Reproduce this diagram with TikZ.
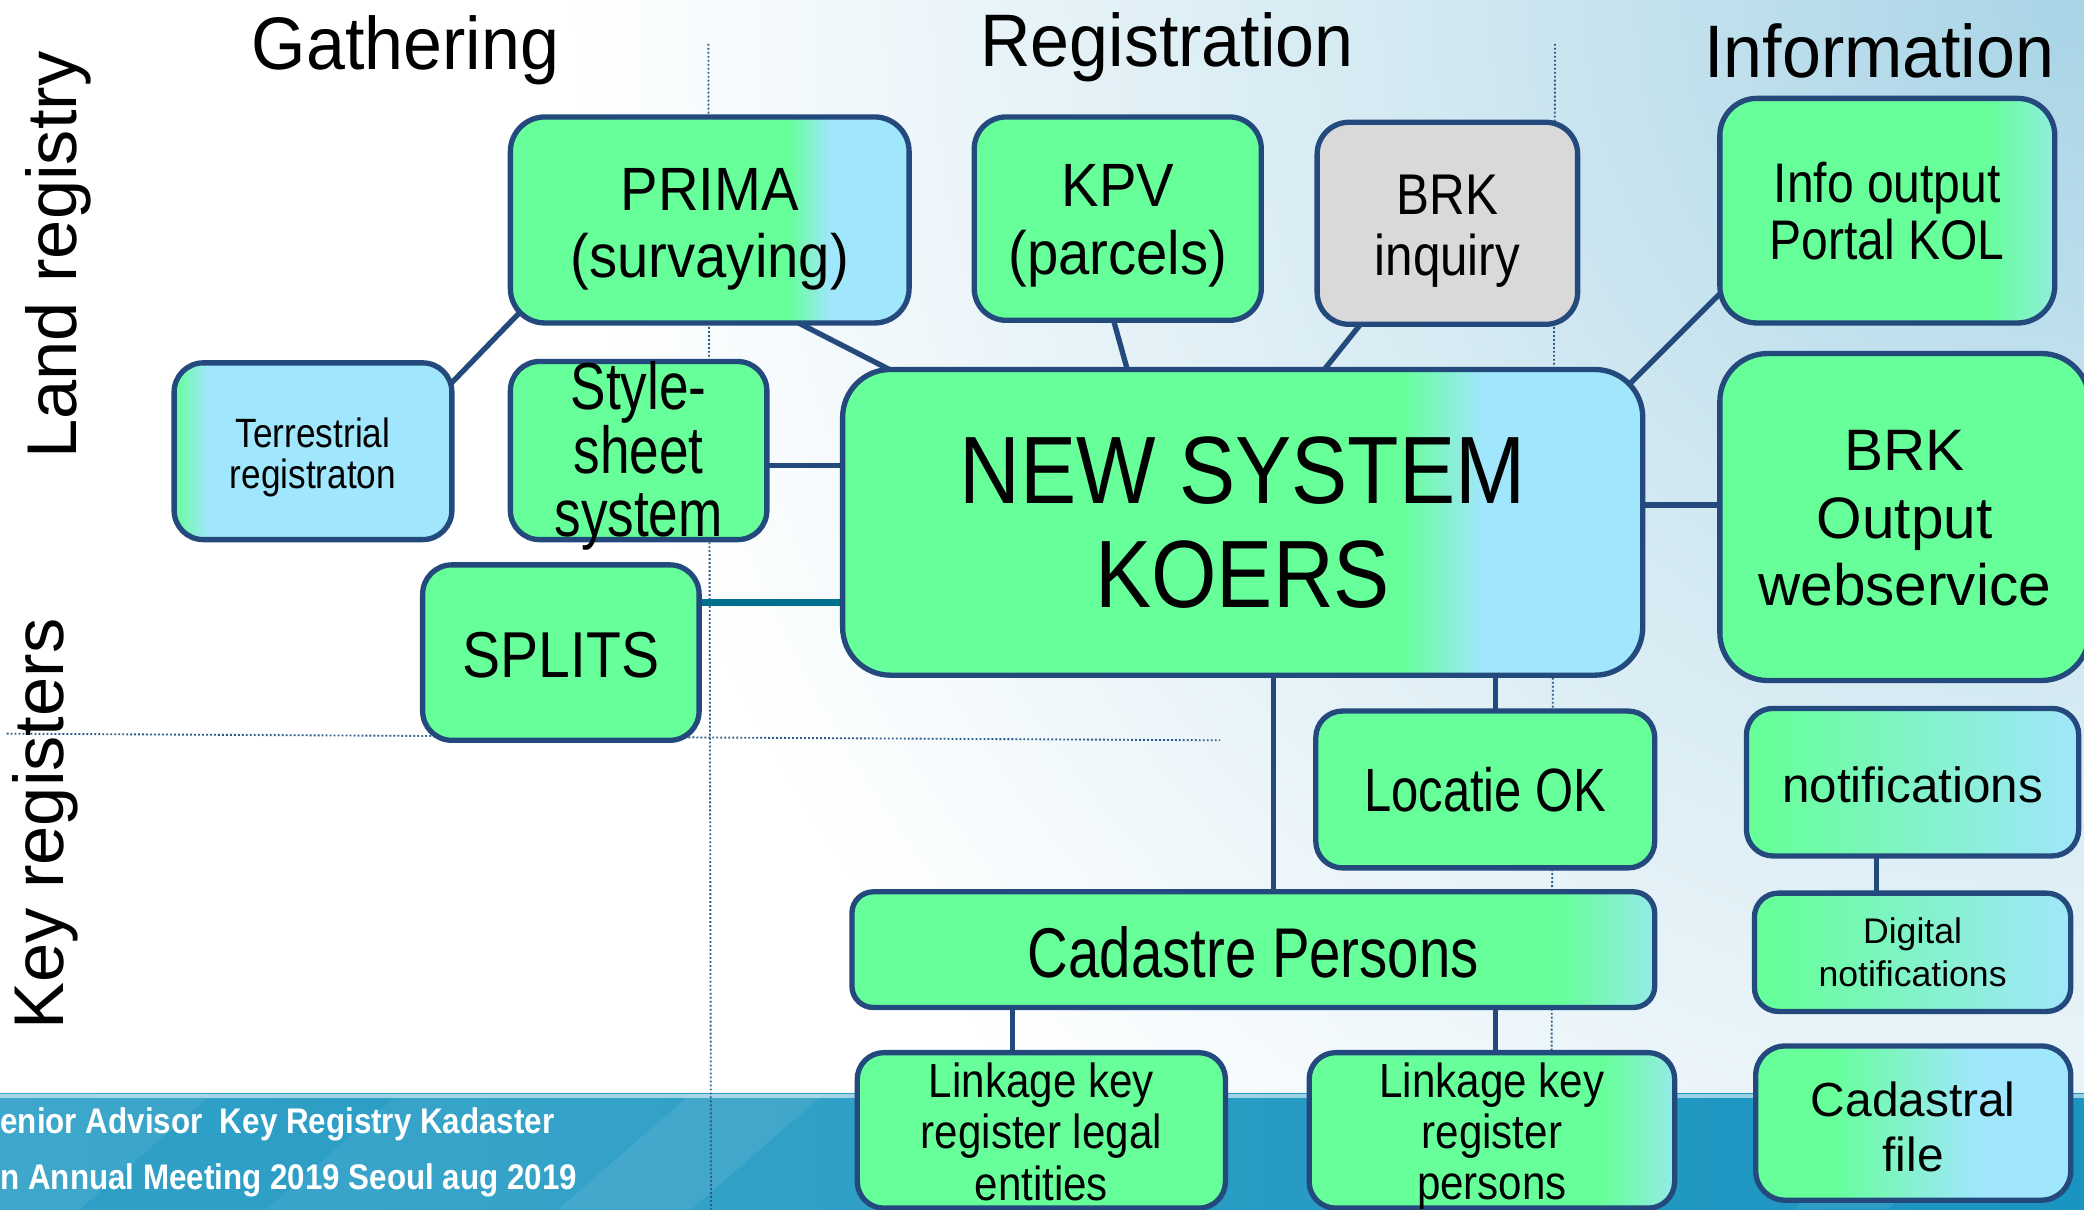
\documentclass[tikz,border=0pt]{standalone}
\usepackage{fontspec}
\setmainfont{Liberation Sans}
\newfontfamily\fnH[FakeStretch=0.94]{Liberation Sans}
\newfontfamily\fnA[FakeStretch=0.92]{Liberation Sans}
\newfontfamily\fnB[FakeStretch=0.86]{Liberation Sans}
\newfontfamily\fnC[FakeStretch=0.80]{Liberation Sans}
\newfontfamily\fnD[FakeStretch=0.88]{Liberation Sans}
\usetikzlibrary{calc}
\definecolor{bgreen}{HTML}{66FF99}
\definecolor{bblue}{HTML}{A0E6FC}
\definecolor{bline}{HTML}{244A7D}
\definecolor{bgray}{HTML}{D9D9D9}
\definecolor{tealw}{HTML}{00708F}
\definecolor{bgA}{HTML}{A8D4E6}
\definecolor{bgB}{HTML}{D3E9F2}
\definecolor{bandA}{HTML}{3EA7CB}
\definecolor{bandB}{HTML}{1A94C0}
\definecolor{dotc}{HTML}{2B5C8A}
\colorlet{bmixA}{bblue!70!bgreen}
\colorlet{bmixB}{bblue!80!bgreen}
\pgfdeclarehorizontalshading{gbsharp}{100bp}{color(0bp)=(bgreen); color(60bp)=(bgreen); color(65bp)=(bblue); color(100bp)=(bblue)}
\pgfdeclarehorizontalshading{bgleft}{100bp}{color(0bp)=(bgreen); color(25bp)=(bgreen); color(31bp)=(bblue); color(100bp)=(bblue)}
\pgfdeclarehorizontalshading{gbedge}{100bp}{color(0bp)=(bgreen); color(65bp)=(bgreen); color(75bp)=(bmixA); color(100bp)=(bmixA)}
\pgfdeclarehorizontalshading{gbtip}{100bp}{color(0bp)=(bgreen); color(69bp)=(bgreen); color(75bp)=(bmixB); color(100bp)=(bmixB)}
\pgfdeclarehorizontalshading{gbpers}{100bp}{color(0bp)=(bgreen); color(65bp)=(bgreen); color(75bp)=(bmixB); color(100bp)=(bmixB)}
\pgfdeclarehorizontalshading{gblin}{100bp}{color(0bp)=(bgreen); color(28bp)=(bgreen); color(75bp)=(bblue); color(100bp)=(bblue)}
\pgfdeclarehorizontalshading{gbfile}{100bp}{color(0bp)=(bgreen); color(37bp)=(bgreen); color(60bp)=(bblue); color(100bp)=(bblue)}
\pgfdeclareradialshading{bgrad}{\pgfpoint{0bp}{0bp}}{color(0bp)=(bgA); color(11bp)=(bgB); color(25bp)=(white); color(50bp)=(white)}
\pgfdeclarelayer{back}
\pgfdeclarelayer{wires}
\pgfsetlayers{back,wires,main}
\tikzset{
  box/.style={draw=bline, line width=2pt, rounded corners=11pt, inner sep=0pt, fill=bgreen},
  txt/.style={inner sep=0pt, align=center, text=black},
  wire/.style={draw=bline, line width=2pt},
  head/.style={inner sep=0pt, anchor=base, font=\fnH\fontsize{28}{32}\selectfont},
  side/.style={inner sep=0pt, rotate=90, font=\fontsize{26.5}{30}\selectfont},
  foot/.style={inner sep=0pt, anchor=base west, text=white, font=\fnD\bfseries\fontsize{13.4}{16}\selectfont},
  guide/.style={draw=dotc, line width=0.7pt, dash pattern=on 0.7pt off 0.8pt},
}
\begin{document}
\begin{tikzpicture}[x=0.5pt,y=-0.5pt]
\useasboundingbox (0,0) rectangle (1568,910);
% ---------- background ----------
\begin{pgfonlayer}{back}
\fill[white] (0,0) rectangle (1568,910);
\begin{scope}
\clip (0,0) rectangle (1568,910);
\shade[shading=bgrad] (1568,0) circle (1150);
\end{scope}
\shade[left color=bandA, right color=bandB] (0,823) rectangle (1568,910);
\fill[bandB, opacity=0.35] (60,910) -- (200,910) -- (300,823) -- (160,823) -- cycle;
\fill[white, opacity=0.08] (420,910) -- (520,910) -- (620,823) -- (520,823) -- cycle;
\fill[white, opacity=0.08] (1350,910) -- (1420,910) -- (1520,823) -- (1450,823) -- cycle;
\fill[white, opacity=0.55] (0,823) rectangle (1568,826);
\draw[guide] (533,33) -- (535,910);
\draw[guide] (1170,33) -- (1167,910);
\draw[guide] (5,552) -- (918,557);
\end{pgfonlayer}
% ---------- headings ----------
\node[head] (hgath) at (305,52) {Gathering};
\node[head] (hreg) at (878,50) {Registration};
\node[head] (hinfo) at (1414,58) {Information};
\node[side] (sland) at (44,192) {Land registry};
\node[side] (skey) at (34,620) {Key registers};
% ---------- boxes ----------
\node[box, shading=gbsharp, minimum width=150pt, minimum height=77.5pt, rounded corners=13pt] (prima) at (534,165.5) {};
\node[box, minimum width=108pt, minimum height=76.5pt, rounded corners=12pt] (kpv) at (841,164.5) {};
\node[box, fill=bgray, minimum width=98pt, minimum height=76pt, rounded corners=12pt] (brkinq) at (1089,168) {};
\node[box, shading=gbedge, minimum width=126pt, minimum height=84.5pt, rounded corners=14pt] (info) at (1420,158.5) {};
\node[box, shading=bgleft, minimum width=104.5pt, minimum height=66.5pt, rounded corners=11pt] (terr) at (235.5,339.5) {};
\node[box, minimum width=96.5pt, minimum height=67pt, rounded corners=11pt] (style) at (480.5,339) {};
\node[box, shading=gbsharp, minimum width=301pt, minimum height=115pt, rounded corners=18pt] (new) at (935,393) {};
\node[box, minimum width=104pt, minimum height=66pt, rounded corners=11pt] (splits) at (422,491) {};
\node[box, minimum width=139pt, minimum height=123pt, rounded corners=18pt] (brkout) at (1433,389) {};
\node[box, minimum width=127.5pt, minimum height=59pt, rounded corners=10pt] (loc) at (1117.5,594) {};
\node[box, shading=gblin, minimum width=125pt, minimum height=55.5pt, rounded corners=10pt] (notif) at (1439,588.5) {};
\node[box, shading=gbtip, minimum width=302pt, minimum height=43.5pt, rounded corners=8pt] (cad) at (943,714.5) {};
\node[box, shading=gblin, minimum width=119pt, minimum height=44.5pt, rounded corners=9pt] (dig) at (1439,716.5) {};
\node[box, minimum width=138.5pt, minimum height=58.5pt, rounded corners=10pt] (legal) at (783.5,850.5) {};
\node[box, shading=gbpers, minimum width=137.5pt, minimum height=58.5pt, rounded corners=10pt] (pers) at (1122.5,850.5) {};
\node[box, shading=gbfile, minimum width=118.5pt, minimum height=58pt, rounded corners=11pt] (cfile) at (1439.5,845) {};
% ---------- box texts ----------
\node[txt, font=\fnA\fontsize{23}{25.5}\selectfont] (primat) at ($(prima)+(0,7)$) {PRIMA\\(survaying)};
\node[txt, font=\fnA\fontsize{23}{25.5}\selectfont] (kpvt) at ($(kpv)+(0,5.5)$) {KPV\\(parcels)};
\node[txt, font=\fnB\fontsize{21.6}{23}\selectfont] (brkinqt) at ($(brkinq)+(0,6)$) {BRK\\inquiry};
\node[txt, font=\fnB\fontsize{21}{21.5}\selectfont] (infot) at (info) {Info output\\Portal KOL};
\node[txt, font=\fnB\fontsize{15.4}{15.5}\selectfont] (terrt) at ($(terr)+(0,4.5)$) {Terrestrial\\registraton};
\node[txt, font=\fnC\fontsize{25}{23.75}\selectfont] (stylet) at ($(style)+(0,4)$) {Style-\\sheet\\system};
\node[txt, font=\fnD\fontsize{36}{39}\selectfont] (newt) at (new) {NEW SYSTEM\\KOERS};
\node[txt, font=\fnD\fontsize{24.4}{27}\selectfont] (splitst) at ($(splits)+(0,2)$) {SPLITS};
\node[txt, font=\fontsize{22}{25.5}\selectfont] (brkoutt) at ($(brkout)+(0,1)$) {BRK\\Output\\webservice};
\node[txt, font=\fnC\fontsize{23}{25}\selectfont] (loct) at (loc) {Locatie OK};
\node[txt, font=\fontsize{18.6}{21}\selectfont] (notift) at ($(notif)+(0,2)$) {notifications};
\node[txt, font=\fnC\fontsize{26.5}{29}\selectfont] (cadt) at ($(cad)+(0,2)$) {Cadastre Persons};
\node[txt, font=\fontsize{13.4}{16.5}\selectfont] (digt) at (dig) {Digital\\notifications};
\node[txt, font=\fnD\fontsize{18}{19.25}\selectfont] (legalt) at ($(legal)+(0,1)$) {Linkage key\\register legal\\entities};
\node[txt, font=\fnD\fontsize{18}{19.25}\selectfont] (perst) at ($(pers)+(0,4.5)$) {Linkage key\\register\\persons};
\node[txt, font=\fontsize{18}{20.5}\selectfont] (cfilet) at ($(cfile)+(0,3)$) {Cadastral\\file};
% ---------- footer text ----------
\node[foot] (foot1) at (0,853) {enior Advisor\ \ Key Registry Kadaster};
\node[foot] (foot2) at (0,895) {n Annual Meeting 2019 Seoul aug 2019};
% ---------- connectors ----------
\begin{pgfonlayer}{wires}
\draw[wire] ($(terr.north east)+(-6,21)$) -- ($(prima.south west)+(13,-14)$);
\draw[wire] ($(prima.south)+(61,-5)$) -- ($(new.north west)+(43,5)$);
\draw[wire] ($(kpv.south)+(-4,-5)$) -- ($(new.north)+(-86,5)$);
\draw[wire] ($(brkinq.south)+(-63,-5)$) -- ($(new.north)+(59,5)$);
\draw[wire] ($(info.south west)+(6,-28)$) -- ($(new.north east)+(-16,17)$);
\draw[wire] ($(style.east)+(-3,11)$) -- ($(new.west)+(3,-43)$);
\draw[wire, draw=tealw, line width=2.6pt] ($(splits.east)+(-3,-38)$) -- ($(new.west)+(3,60)$);
\draw[wire] ($(new.east)+(-3,-13)$) -- ($(brkout.west)+(3,-9)$);
\draw[wire] ($(new.south)+(23,-3)$) -- ($(cad.north)+(15,3)$);
\draw[wire] ($(new.south)+(190,-3)$) -- ($(loc.north)+(7.5,3)$);
\draw[wire] ($(notif.south)+(-27,-3)$) -- ($(dig.north)+(-27,3)$);
\draw[wire] ($(cad.south)+(-181,-3)$) -- ($(legal.north)+(-21.5,3)$);
\draw[wire] ($(cad.south)+(182,-3)$) -- ($(pers.north)+(2.5,3)$);
\end{pgfonlayer}
\end{tikzpicture}
\end{document}
